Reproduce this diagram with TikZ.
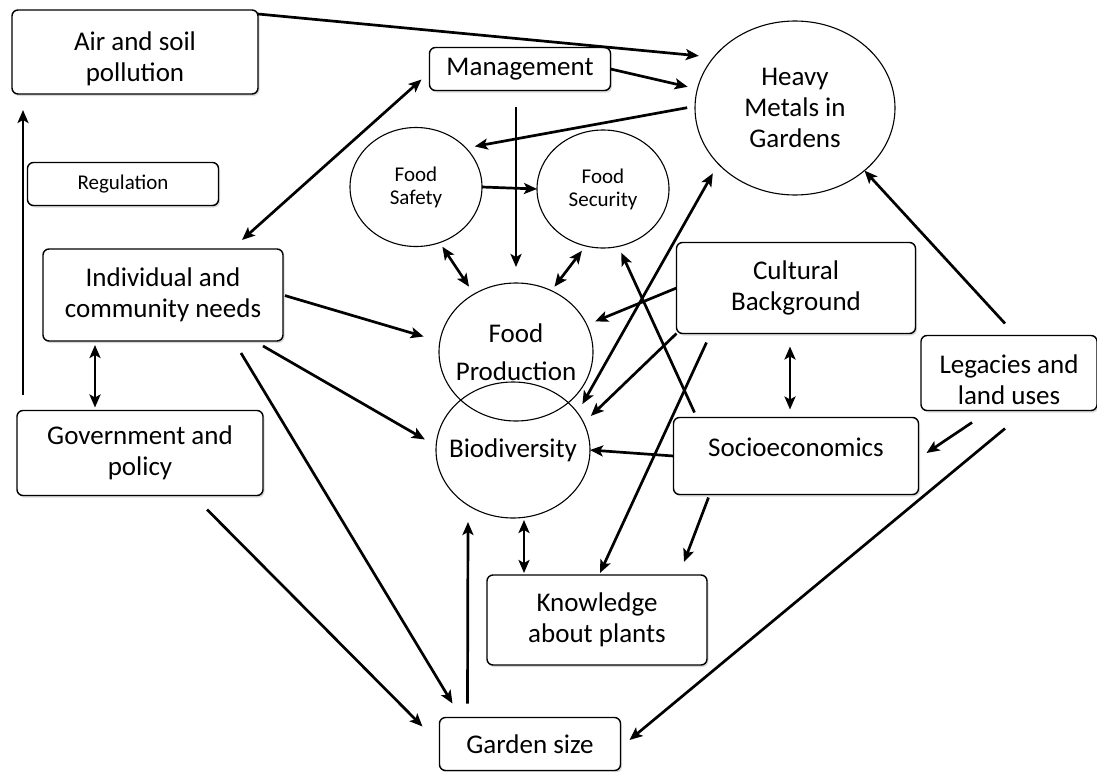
\documentclass[tikz,border=0pt]{standalone}
\usepackage{fontspec}
\setmainfont{Carlito}
\usepackage{tikz}
\usetikzlibrary{calc,shapes.geometric,arrows.meta,shadows}
\tikzset{
 >={Stealth[length=13pt,width=11pt,inset=3pt]},
 gd box/.style={draw,rounded corners=6pt,fill=white,line width=1.4pt,align=center,
                inner sep=0pt,outer sep=0pt,font=\fontsize{27}{31}\selectfont,
                drop shadow={shadow xshift=1.5pt,shadow yshift=-2pt,opacity=.3}},
 gd small/.style={gd box,font=\fontsize{21}{23}\selectfont},
 gd oval/.style={draw,ellipse,line width=1.1pt,align=center,inner xsep=-10pt,
                 inner ysep=0pt,outer sep=0pt,font=\fontsize{27}{31}\selectfont},
 gd oval small/.style={gd oval,font=\fontsize{21}{23}\selectfont},
 gd link/.style={line width=2.7pt,->},
 gd both/.style={line width=2.7pt,<->}
}

\begin{document}
\begin{tikzpicture}[x=1pt,y=-1pt]
 \useasboundingbox (0,0) rectangle (1097,771);
 % boxes
 \node[gd box,minimum width=246pt,minimum height=84pt,text height=63pt] (air) at (135,52) {Air and soil\\pollution};
 \node[gd small,minimum width=191pt,minimum height=43pt] (reg) at (123,184) {Regulation};
 \node[gd box,minimum width=181pt,minimum height=43pt] (mgmt) at (520,69) {Management};
 \node[gd box,minimum width=240pt,minimum height=92pt] (needs) at (163,295) {Individual and\\community needs};
 \node[gd box,minimum width=246pt,minimum height=85pt] (gov) at (140,453) {Government and\\policy};
 \node[gd box,minimum width=239pt,minimum height=91pt] (cult) at (796,288) {Cultural\\Background};
 \node[gd box,minimum width=245pt,minimum height=77pt,text height=19pt,text depth=19pt]
   (socio) at (796,456) {Socioeconomics};
 \node[gd box,minimum width=176pt,minimum height=75pt,text height=63pt] (legacy) at (1009,373) {Legacies and\\land uses};
 \node[gd box,minimum width=220pt,minimum height=90pt] (know) at (597,620) {Knowledge\\about plants};
 \node[gd box,minimum width=181pt,minimum height=53pt] (garden) at (530,744) {Garden size};
 % ovals
 \node[gd oval,minimum width=200pt,minimum height=174pt] (hm) at (795,108) {Heavy\\Metals in\\Gardens};
 \node[gd oval small,minimum width=132pt,minimum height=119pt] (safety) at (416,187) {Food\\Safety};
 \node[gd oval small,minimum width=132pt,minimum height=118pt] (security) at (603,189) {Food\\Security};
 \node[gd oval,minimum width=154pt,minimum height=138pt] (prod) at (516,352) {Food\\[7pt]Production};
 \node[gd oval,minimum width=154pt,minimum height=136pt] (bio) at (513,450) {Biodiversity};
 \coordinate (loose) at (684,562);

 % top part
 \draw[gd link,shorten >=15pt] ($(air.north east)+(0,4)$) -- (hm.148);
 \draw[gd link,shorten >=10pt] (mgmt.east) -- (hm.169);
 \draw[gd link,shorten <=8pt,shorten >=9pt] (hm.179) -- (safety.38);
 \draw[gd link,shorten <=16pt,shorten >=16pt] (mgmt.south -| prod.north) -- (prod.north);
 \draw[gd link] (safety.east) -- (security.west);
 \draw[gd both,shorten <=5pt,shorten >=9pt] (safety.293) -- (prod.126);
 \draw[gd both,shorten <=6pt,shorten >=5pt] (security.253) -- (prod.60);
 \draw[gd both] ($(needs.north west)+(199,-9)$) -- ($(mgmt.north west)+(-8,32)$);

 % left side
 \draw[gd link] ($(gov.north west)+(6,-16)$) -- ($(air.south west)+(11,16)$);
 \draw[gd both] ($(needs.south west)+(52,4)$) -- ($(gov.north west)+(78,-3)$);
 \draw[gd link,shorten <=2pt,shorten >=17pt] (needs.east) -- (prod.172);
 \draw[gd link,shorten >=13pt] ($(needs.south east)+(-20,5)$) -- (bio.177);
 \draw[gd link] ($(needs.south east)+(-42,12)$) -- ($(garden.north west)+(13,-14)$);
 \draw[gd link] ($(gov.south east)+(-56,14)$) -- ($(garden.north west)+(-17,9)$);
 \draw[gd link] ($(garden.north west)+(28,-14)$) -- ($(bio.south)+(-45,4)$);
 \draw[gd both] ($(bio.south)+(11,2)$) -- ($(know.north)+(-73,-2)$);

 % right side
 \draw[gd link,shorten >=9pt] (cult.west) -- (prod.21);
 \draw[gd link,shorten >=10pt] (cult.south west) -- (bio.21);
 \draw[gd both,shorten <=11pt,shorten >=10pt] (hm.216) -- (bio.30);
 \draw[gd link,shorten >=7pt] ($(socio.north west)+(21,-5)$) -- (security.285);
 \draw[gd link] (socio.west) -- (bio.east);
 \draw[gd both] ($(cult.south)+(-6,13)$) -- ($(socio.north)+(-6,-8)$);
 \draw[gd link] ($(cult.south west)+(30,9)$) -- ($(know.north)+(3,-2)$);
 \draw[gd link] ($(socio.south west)+(35,3)$) -- (loose);
 \draw[gd link] ($(legacy.north)+(-4,-12)$) -- (hm.318);
 \draw[gd link] ($(legacy.south west)+(51,12)$) -- ($(socio.east)+(8,-3)$);
 \draw[gd link] ($(legacy.south)+(-4,18)$) -- ($(garden.east)+(9,-4)$);
\end{tikzpicture}
\end{document}
